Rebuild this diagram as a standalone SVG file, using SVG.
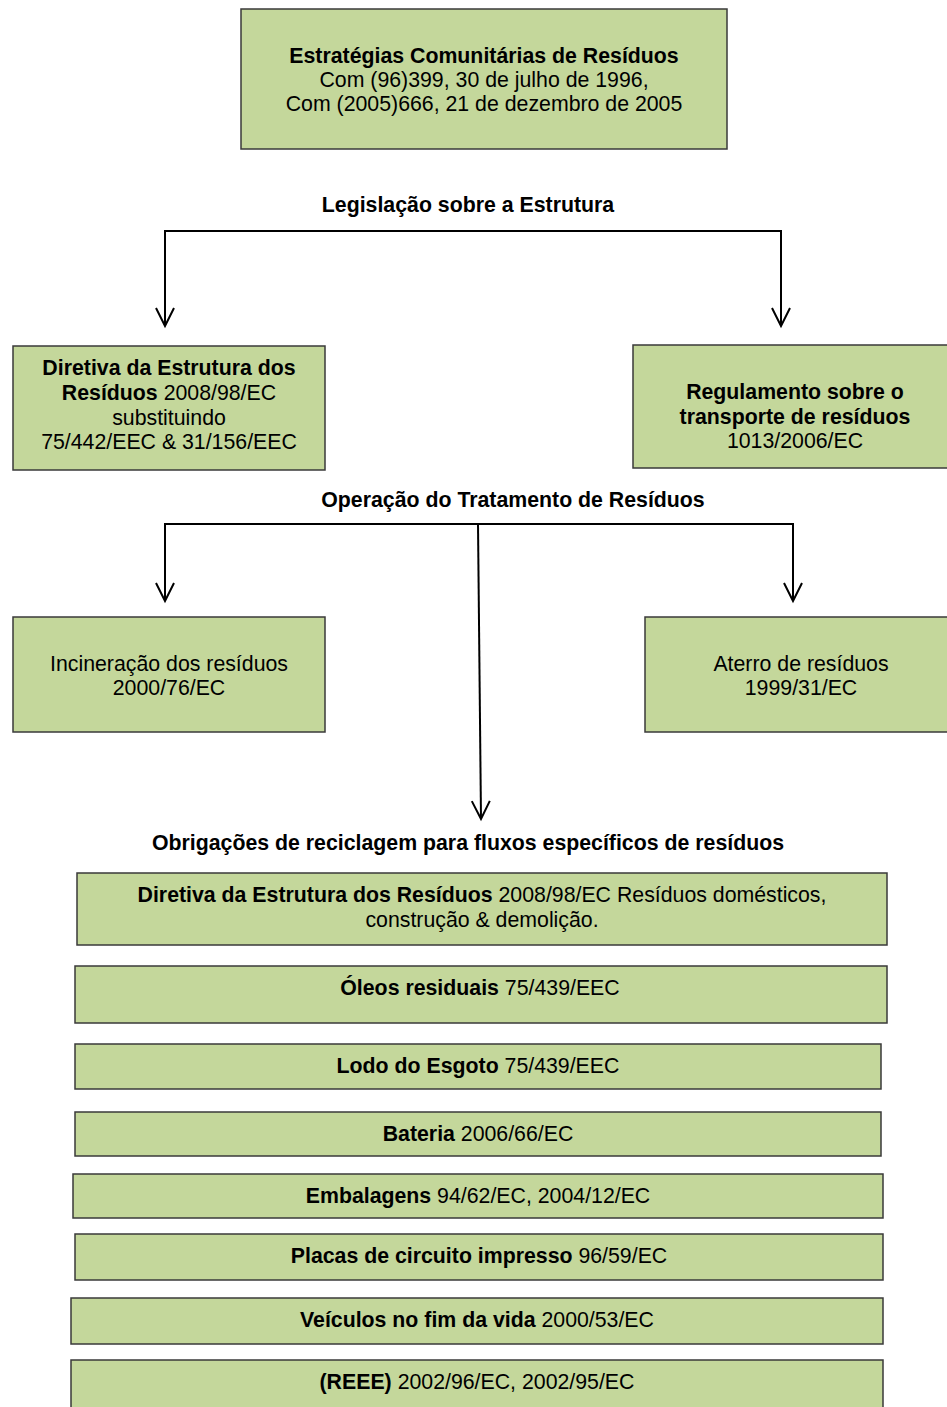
<svg xmlns="http://www.w3.org/2000/svg" width="947" height="1407" viewBox="0 0 947 1407">
  <style>
    .box { fill: #c4d79b; stroke: #3a3a3a; stroke-width: 1.5; }
    text { font-family: "Liberation Sans", Arial, sans-serif; font-size: 21.3px; fill: #000; text-anchor: middle; }
    .b { font-weight: bold; }
    .conn { fill: none; stroke: #000; stroke-width: 2; }
  </style>
  <defs>
    <marker id="openArrow" markerUnits="userSpaceOnUse" markerWidth="20" markerHeight="20" refX="0" refY="0" orient="auto" overflow="visible">
      <path d="M-18,-9 L0,0 L-18,9" fill="none" stroke="#000" stroke-width="2" stroke-linejoin="miter"/>
    </marker>
  </defs>

  <rect width="947" height="1407" fill="#fff"/>

  <!-- Connectors -->
  <g id="connectors">
    <path class="conn" d="M165,231 H781"/>
    <path class="conn" d="M165,230 V326" marker-end="url(#openArrow)"/>
    <path class="conn" d="M781,230 V326" marker-end="url(#openArrow)"/>
    <path class="conn" d="M165,524 H793"/>
    <path class="conn" d="M165,523 V601" marker-end="url(#openArrow)"/>
    <path class="conn" d="M793,523 V601" marker-end="url(#openArrow)"/>
    <path class="conn" d="M478,524 L481,819" marker-end="url(#openArrow)"/>
  </g>

  <!-- Section headings -->
  <g id="labels">
    <text class="b" x="468" y="212">Legislação sobre a Estrutura</text>
    <text class="b" x="513" y="507">Operação do Tratamento de Resíduos</text>
    <text class="b" x="468" y="850">Obrigações de reciclagem para fluxos específicos de resíduos</text>
  </g>

  <g id="strategies">
    <rect class="box" x="241" y="9" width="486" height="140"/>
    <text class="b" x="484" y="63">Estratégias Comunitárias de Resíduos</text>
    <text x="484" y="87">Com (96)399, 30 de julho de 1996,</text>
    <text x="484" y="111">Com (2005)666, 21 de dezembro de 2005</text>
  </g>

  <g id="framework-directive">
    <rect class="box" x="13" y="346" width="312" height="124"/>
    <text class="b" x="169" y="375">Diretiva da Estrutura dos</text>
    <text x="169" y="400"><tspan class="b">Resíduos</tspan> 2008/98/EC</text>
    <text x="169" y="425">substituindo</text>
    <text x="169" y="449">75/442/EEC &amp; 31/156/EEC</text>
  </g>

  <g id="shipment-regulation">
    <rect class="box" x="633" y="345" width="324" height="123"/>
    <text class="b" x="795" y="399">Regulamento sobre o</text>
    <text class="b" x="795" y="424">transporte de resíduos</text>
    <text x="795" y="448">1013/2006/EC</text>
  </g>

  <g id="incineration">
    <rect class="box" x="13" y="617" width="312" height="115"/>
    <text x="169" y="671">Incineração dos resíduos</text>
    <text x="169" y="695">2000/76/EC</text>
  </g>

  <g id="landfill">
    <rect class="box" x="645" y="617" width="312" height="115"/>
    <text x="801" y="671">Aterro de resíduos</text>
    <text x="801" y="695">1999/31/EC</text>
  </g>

  <g id="household-waste">
    <rect class="box" x="77" y="873" width="810" height="72"/>
    <text x="482" y="902"><tspan class="b">Diretiva da Estrutura dos Resíduos</tspan> 2008/98/EC Resíduos domésticos,</text>
    <text x="482" y="927">construção &amp; demolição.</text>
  </g>

  <g id="waste-oils">
    <rect class="box" x="75" y="966" width="812" height="57"/>
    <text x="480" y="995"><tspan class="b">Óleos residuais</tspan> 75/439/EEC</text>
  </g>

  <g id="sewage-sludge">
    <rect class="box" x="75" y="1044" width="806" height="45"/>
    <text x="478" y="1073"><tspan class="b">Lodo do Esgoto</tspan> 75/439/EEC</text>
  </g>

  <g id="batteries">
    <rect class="box" x="75" y="1112" width="806" height="44"/>
    <text x="478" y="1141"><tspan class="b">Bateria</tspan> 2006/66/EC</text>
  </g>

  <g id="packaging">
    <rect class="box" x="73" y="1174" width="810" height="44"/>
    <text x="478" y="1203"><tspan class="b">Embalagens</tspan> 94/62/EC, 2004/12/EC</text>
  </g>

  <g id="circuit-boards">
    <rect class="box" x="75" y="1234" width="808" height="46"/>
    <text x="479" y="1263"><tspan class="b">Placas de circuito impresso</tspan> 96/59/EC</text>
  </g>

  <g id="end-of-life-vehicles">
    <rect class="box" x="71" y="1298" width="812" height="46"/>
    <text x="477" y="1327"><tspan class="b">Veículos no fim da vida</tspan> 2000/53/EC</text>
  </g>

  <g id="weee">
    <rect class="box" x="71" y="1360" width="812" height="60"/>
    <text x="477" y="1389"><tspan class="b">(REEE)</tspan> 2002/96/EC, 2002/95/EC</text>
  </g>
</svg>
